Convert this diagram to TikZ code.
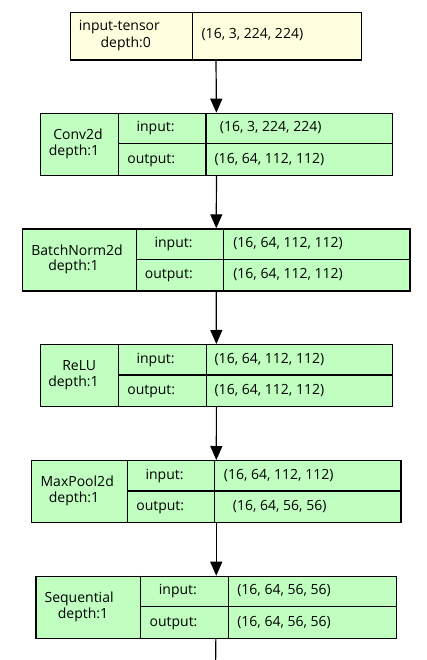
\documentclass[tikz,border=0pt]{standalone}
\usepackage{fontspec}
\setmainfont{Open Sans}
\usepackage{tikz}
\usetikzlibrary{arrows.meta}
\definecolor{tensorfill}{HTML}{FFFFE0}
\definecolor{layerfill}{HTML}{C1FFC1}
\tikzset{>={Triangle[length=14pt, width=12pt]}, font=\fontsize{14}{16}\selectfont}
\tikzset{layer/.style={shape=rectangle, draw, fill=layerfill, anchor=north west,
    minimum height=62pt, inner sep=0pt}}
\tikzset{txt/.style={anchor=base west, inner sep=0pt}}
\tikzset{flow/.style={->, line width=1.2pt}}

\begin{document}
\begin{tikzpicture}[x=1pt, y=-1pt, line width=1.2pt]
  \useasboundingbox (0,0) rectangle (427,660);
  \begin{scope}[shift={(0,12)}]
      \node[layer, fill=tensorfill, minimum width=291.5pt, minimum height=47.5pt] (tensor) at (69.5,0) {};
      \draw (192.7,0) -- (192.7,47.5);
      \node[txt] (tensor-n) at (78.3,18.7) {input-tensor};
      \node[txt] (tensor-d) at (100,35.7) {depth:0};
      \node[txt] (tensor-v) at (201,27) {(16, 3, 224, 224)};
  \end{scope}
  %%%%%
  \begin{scope}[shift={(0,112.7)}]
      \node[layer, minimum width=352pt] (conv) at (40,0) {};
      \draw (118.7,0) -- (118.7,62);
      \draw (206,0) -- (206,62);
      \draw (118.7,31) -- (392,31);
      \node[txt] (conv-n) at (52.7,26.8) {Conv2d};
      \node[txt] (conv-d) at (48.3,42.4) {depth:1};
      \node[txt] (conv-i) at (136,19) {input:};
      \node[txt] (conv-o) at (126.7,50.5) {output:};
      \node[txt] (conv-iv) at (219.3,19) {(16, 3, 224, 224)};
      \node[txt] (conv-ov) at (214,50.5) {(16, 64, 112, 112)};
  \end{scope}
  %%%%%
  \begin{scope}[shift={(0,228.3)}]
      \node[layer, minimum width=387.6pt] (bn) at (21.7,0) {};
      \draw (136.3,0) -- (136.3,62);
      \draw (223.7,0) -- (223.7,62);
      \draw (136.3,31) -- (409.3,31);
      \node[txt] (bn-n) at (30.7,26.8) {BatchNorm2d};
      \node[txt] (bn-d) at (47.7,42.4) {depth:1};
      \node[txt] (bn-i) at (154,19) {input:};
      \node[txt] (bn-o) at (144.3,50.5) {output:};
      \node[txt] (bn-iv) at (232.7,19) {(16, 64, 112, 112)};
      \node[txt] (bn-ov) at (232.7,50.5) {(16, 64, 112, 112)};
  \end{scope}
  %%%%%
  \begin{scope}[shift={(0,344)}]
      \node[layer, minimum width=351.7pt] (relu) at (40,0) {};
      \draw (118.7,0) -- (118.7,62);
      \draw (206.3,0) -- (206.3,62);
      \draw (118.7,31) -- (391.7,31);
      \node[txt] (relu-n) at (61.7,26.8) {ReLU};
      \node[txt] (relu-d) at (47.7,42.4) {depth:1};
      \node[txt] (relu-i) at (136,19) {input:};
      \node[txt] (relu-o) at (126.7,50.5) {output:};
      \node[txt] (relu-iv) at (214,19) {(16, 64, 112, 112)};
      \node[txt] (relu-ov) at (214,50.5) {(16, 64, 112, 112)};
  \end{scope}
  %%%%%
  \begin{scope}[shift={(0,460)}]
      \node[layer, minimum width=369.3pt] (pool) at (31,0) {};
      \draw (127.7,0) -- (127.7,62);
      \draw (214.7,0) -- (214.7,62);
      \draw (127.7,31) -- (400.3,31);
      \node[txt] (pool-n) at (40,26.8) {MaxPool2d};
      \node[txt] (pool-d) at (48.3,42.4) {depth:1};
      \node[txt] (pool-i) at (145,19) {input:};
      \node[txt] (pool-o) at (135.7,50.5) {output:};
      \node[txt] (pool-iv) at (223.3,19) {(16, 64, 112, 112)};
      \node[txt] (pool-ov) at (232.3,50.5) {(16, 64, 56, 56)};
  \end{scope}
  %%%%%
  \begin{scope}[shift={(0,575.7)}]
      \node[layer, minimum width=360.7pt] (seq) at (35.3,0) {};
      \draw (140.7,0) -- (140.7,62);
      \draw (228.3,0) -- (228.3,62);
      \draw (140.7,31) -- (396,31);
      \node[txt] (seq-n) at (44,26.8) {Sequential};
      \node[txt] (seq-d) at (57.3,42.4) {depth:1};
      \node[txt] (seq-i) at (158.3,19) {input:};
      \node[txt] (seq-o) at (149,50.5) {output:};
      \node[txt] (seq-iv) at (236.7,19) {(16, 64, 56, 56)};
      \node[txt] (seq-ov) at (236.7,50.5) {(16, 64, 56, 56)};
  \end{scope}
  %%%% flow between layers
  \coordinate (next) at (215.6,662);
  \draw[flow] (tensor) -- (conv);
  \draw[flow] (conv) -- (bn);
  \draw[flow] (bn) -- (relu);
  \draw[flow] (relu) -- (pool);
  \draw[flow] (pool) -- (seq);
  \draw[-] (seq) -- (next);
\end{tikzpicture}
\end{document}
